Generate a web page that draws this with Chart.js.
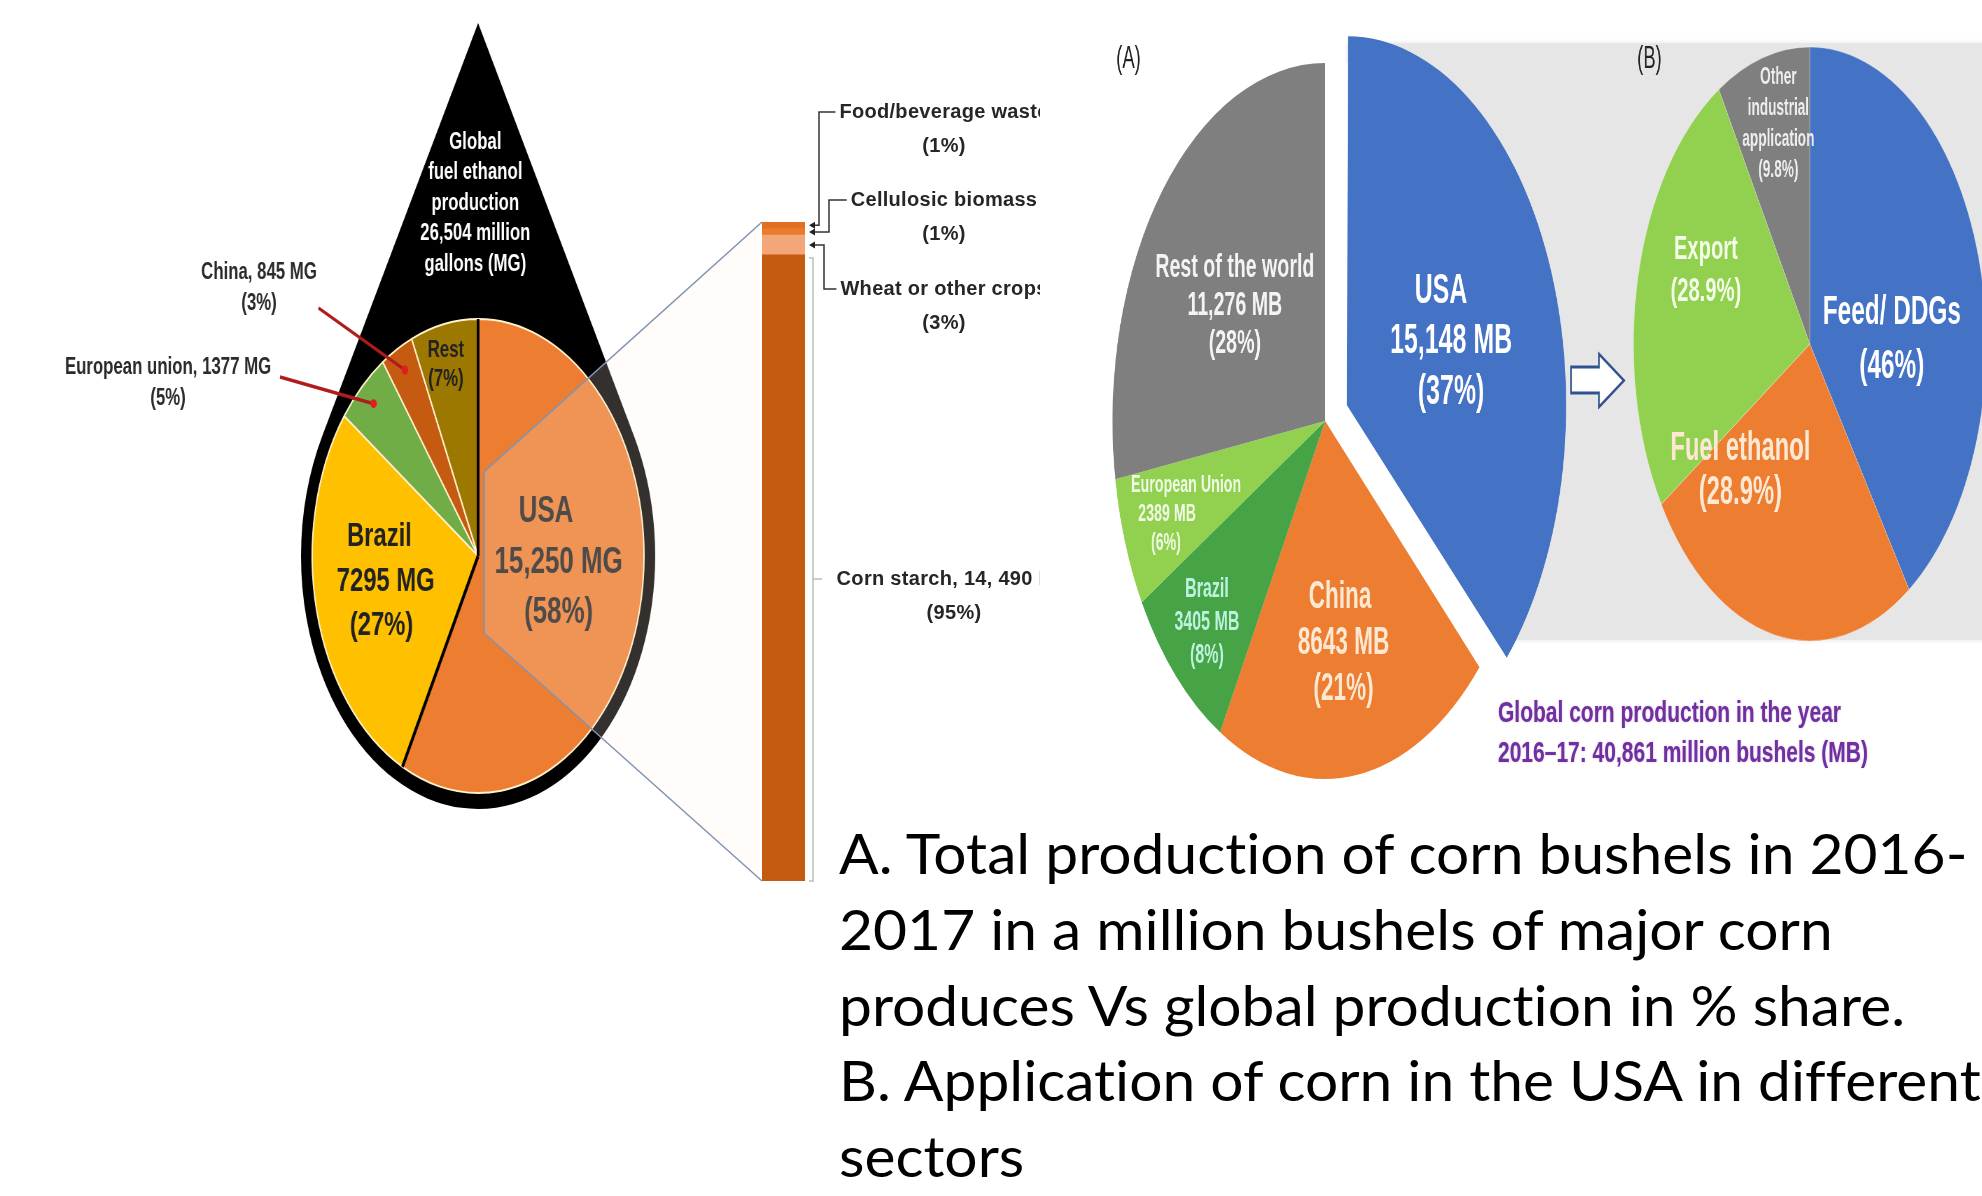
<!DOCTYPE html>
<html>
<head>
<meta charset="utf-8">
<title>Fuel ethanol and corn production</title>
<script src="https://cdn.jsdelivr.net/npm/chart.js@4.4.1/dist/chart.umd.min.js"></script>
<style>
  html, body { margin: 0; padding: 0; background: #fff; }
  body { position: relative; width: 1982px; height: 1196px; overflow: hidden; font-family: "Liberation Sans", Arial, sans-serif; }
  canvas { display: block; }
  .abs { position: absolute; }
  #dropBox { left: 0; top: 0; width: 1000px; height: 900px; transform-origin: 0 0; }
  #barBox { left: 700px; top: 0; width: 340px; height: 900px; overflow: hidden; }
  #callout { left: 0; top: 0; pointer-events: none; }
  #grayBox { left: 1348px; top: 43px; width: 640px; height: 597px; background: #e6e6e6; box-shadow: 0 0 4px 1px #ececec; }
  #cornBox { left: 1100px; top: 0; width: 1520px; height: 800px; transform-origin: 0 0; }
  #pieA { position: absolute; left: 0; top: 0; }
  #pieB { position: absolute; left: 760px; top: 0; }
  #note { left: 1498px; top: 692px; font-weight: bold; font-size: 30px; line-height: 40px; color: #7030a0;
          white-space: nowrap; transform: scaleX(0.7); transform-origin: 0 0; text-shadow: 0 0 2px rgba(112, 48, 160, 0.45); }
  #caption { left: 839px; top: 815px; font-family: Lato, sans-serif; font-size: 56px; line-height: 75.8px; color: #000;
             white-space: nowrap; transform-origin: 0 0; font-variant-ligatures: none; }
  #caption div { width: max-content; }
</style>
</head>
<body>
<div id="dropBox" class="abs"><canvas id="dropPie" width="1000" height="900"></canvas></div>
<div id="barBox" class="abs"><canvas id="feedBar" width="340" height="900"></canvas></div>
<canvas id="callout" class="abs" width="1100" height="900"></canvas>
<div id="grayBox" class="abs"></div>
<div id="cornBox" class="abs">
  <canvas id="pieA" width="900" height="800"></canvas>
  <canvas id="pieB" width="760" height="800"></canvas>
</div>
<div id="note" class="abs">Global corn production in the year<br>2016&ndash;17: 40,861 million bushels (MB)</div>
<div id="caption" class="abs">
  <div>A. Total production of corn bushels in 2016-</div>
  <div>2017 in a million bushels of major corn</div>
  <div>produces Vs global production in % share.</div>
  <div>B. Application of corn in the USA in different</div>
  <div>sectors</div>
</div>

<script>
// global fuel ethanol production, million gallons
const ethanolNames = ['USA', 'Brazil', 'European union', 'China', 'Rest'];
const ethanolMG = [15250, 7295, 1377, 845, 1737];
const ethanolPct = [58, 27, 5, 3, 7];
const ethanolColors = ['#ed7d31', '#ffc000', '#70ad47', '#c55a11', '#9c7800'];
const ethanolTotalMG = 26504;

// US ethanol feedstocks, bottom of the bar first
const feedNames = ['Corn starch, 14, 490 MG', 'Wheat or other crops', 'Cellulosic biomass', 'Food/beverage waste'];
const feedPct = [95, 3, 1, 1];
const feedColors = ['#c55a11', '#f3a677', '#ea7a2e', '#e06f1f'];

// corn production 2016-17, million bushels
const cornNames = ['USA', 'China', 'Brazil', 'European Union', 'Rest of the world'];
const cornMB = [15148, 8643, 3405, 2389, 11276];
const cornPct = [37, 21, 8, 6, 28];
const cornColors = ['#4472c4', '#ed7d31', '#46a447', '#92d050', '#7f7f7f'];

// use of US corn by sector, %
const useNames = ['Feed/ DDGs', 'Fuel ethanol', 'Export', 'Other industrial application'];
const usePct = [46, 28.9, 28.9, 9.8];
const useColors = ['#4472c4', '#ed7d31', '#92d050', '#7f7f7f'];

const DROP_SX = 0.7;    // the drop panel is drawn wide and squeezed into place
const CORN_SX = 0.594;  // same for the two corn pies
const BAR_LEFT = 700;

Chart.defaults.font.family = '"Liberation Sans", Arial, sans-serif';
document.getElementById('dropBox').style.transform = `scaleX(${DROP_SX})`;
document.getElementById('cornBox').style.transform = `scaleX(${CORN_SX})`;

const big = v => v >= 10000 ? v.toLocaleString('en-US') : String(v);
const F = (w, px) => `${w} ${px}px "Liberation Sans", Arial, sans-serif`;

// multi-line text blocks, one per slice
const sliceText = {
  id: 'sliceText',
  afterDatasetsDraw(chart, args, o) {
    const ctx = chart.ctx;
    ctx.save();
    ctx.textAlign = 'center';
    ctx.textBaseline = 'middle';
    o.items.forEach(it => {
      ctx.font = it.font;
      ctx.fillStyle = it.color;
      it.lines.forEach((t, j) => {
        const x = Array.isArray(it.x) ? it.x[j] : it.x;
        ctx.fillText(t, x, it.y + j * (it.lh || 0));
      });
    });
    ctx.restore();
  }
};

// black drop behind the ethanol pie, black USA edges and red leaders
const dropDecor = {
  id: 'dropDecor',
  beforeDatasetsDraw(chart, args, o) {
    const a = chart.getDatasetMeta(0).data[0];
    const R = a.outerRadius + o.rim;
    const b = Math.acos(R / (a.y - o.tipY));
    const ctx = chart.ctx;
    ctx.save();
    ctx.beginPath();
    ctx.moveTo(a.x, o.tipY);
    ctx.arc(a.x, a.y, R, -Math.PI / 2 + b, -Math.PI / 2 - b);
    ctx.closePath();
    ctx.fillStyle = '#000';
    ctx.fill();
    ctx.restore();
  },
  afterDatasetsDraw(chart, args, o) {
    const ctx = chart.ctx;
    const arcs = chart.getDatasetMeta(0).data;
    const usa = arcs[0];
    ctx.save();
    ctx.strokeStyle = '#000';
    ctx.lineWidth = 4;
    [usa.startAngle, usa.endAngle].forEach(ang => {
      ctx.beginPath();
      ctx.moveTo(usa.x, usa.y);
      ctx.lineTo(usa.x + Math.cos(ang) * usa.outerRadius, usa.y + Math.sin(ang) * usa.outerRadius);
      ctx.stroke();
    });
    o.leaders.forEach(l => {
      const a = arcs[l.i];
      const mid = (a.startAngle + a.endAngle) / 2;
      const ex = a.x + Math.cos(mid) * a.outerRadius * 0.9;
      const ey = a.y + Math.sin(mid) * a.outerRadius * 0.9;
      ctx.strokeStyle = '#b01c1c';
      ctx.lineWidth = 3.5;
      ctx.beginPath();
      ctx.moveTo(l.from[0], l.from[1]);
      ctx.lineTo(ex, ey);
      ctx.stroke();
      ctx.fillStyle = '#e01e1e';
      ctx.beginPath();
      ctx.arc(ex, ey, 4.5, 0, Math.PI * 2);
      ctx.fill();
    });
    ctx.restore();
  }
};

const dropChart = new Chart(document.getElementById('dropPie'), {
  type: 'pie',
  data: {
    labels: ethanolNames,
    datasets: [{ data: ethanolMG, backgroundColor: ethanolColors, borderColor: '#fff2cc', borderWidth: 2 }]
  },
  options: {
    responsive: false, animation: false, events: [],
    radius: 237,
    layout: { padding: { left: 446, right: 80, top: 319, bottom: 107 } },
    plugins: {
      legend: { display: false }, tooltip: { enabled: false },
      dropDecor: { tipY: 23, rim: 16, leaders: [{ i: 3, from: [455, 308] }, { i: 2, from: [400, 377] }] },
      sliceText: {
        items: [
          { x: 679, y: 142, lh: 30.5, font: F('bold', 24), color: '#fff',
            lines: ['Global', 'fuel ethanol', 'production', big(ethanolTotalMG) + ' million', 'gallons (MG)'] },
          { x: [780, 798, 798], y: 512, lh: 50.5, font: F('bold', 37), color: '#222',
            lines: [ethanolNames[0], big(ethanolMG[0]) + ' MG', `(${ethanolPct[0]}%)`] },
          { x: [542, 551, 545], y: 537, lh: 44.5, font: F('bold', 34), color: '#222',
            lines: [ethanolNames[1], big(ethanolMG[1]) + ' MG', `(${ethanolPct[1]}%)`] },
          { x: 637, y: 350, lh: 29, font: F('bold', 24), color: '#222',
            lines: [ethanolNames[4], `(${ethanolPct[4]}%)`] },
          { x: 370, y: 272, lh: 31, font: F('bold', 24), color: '#2b2b2b',
            lines: [`${ethanolNames[3]}, ${big(ethanolMG[3])} MG`, `(${ethanolPct[3]}%)`] },
          { x: 240, y: 367, lh: 31, font: F('bold', 24), color: '#2b2b2b',
            lines: [`${ethanolNames[2]}, ${big(ethanolMG[2])} MG`, `(${ethanolPct[2]}%)`] }
        ]
      }
    }
  },
  plugins: [dropDecor, sliceText]
});

// leaders and labels to the right of the feedstock bar
const feedLeaders = {
  id: 'feedLeaders',
  afterDatasetsDraw(chart, args, o) {
    const ctx = chart.ctx;
    const bars = chart.data.datasets.map((d, i) => chart.getDatasetMeta(i).data[0]);
    const right = bars[0].x + bars[0].width / 2;
    ctx.save();
    ctx.font = F('bold', 20);
    ctx.letterSpacing = '0.3px';
    ctx.textAlign = 'center';
    ctx.textBaseline = 'middle';
    o.items.forEach(it => {
      const b = bars[it.i];
      const name = feedNames[it.i];
      ctx.fillStyle = '#262626';
      ctx.fillText(name, it.x, it.y);
      ctx.fillText(`(${feedPct[it.i]}%)`, it.x, it.y + o.lh);
      const w = ctx.measureText(name).width;
      if (it.elbow) {
        const ay = (b.y + b.base) / 2;
        ctx.strokeStyle = '#333';
        ctx.lineWidth = 1.5;
        ctx.beginPath();
        ctx.moveTo(it.x - w / 2 - 4, it.y);
        ctx.lineTo(it.elbow, it.y);
        ctx.lineTo(it.elbow, ay);
        ctx.lineTo(right + 8, ay);
        ctx.stroke();
        ctx.fillStyle = '#222';
        ctx.beginPath();
        ctx.moveTo(right + 4, ay);
        ctx.lineTo(right + 10, ay - 3.5);
        ctx.lineTo(right + 10, ay + 3.5);
        ctx.closePath();
        ctx.fill();
      } else {
        const bx = right + 8;
        ctx.strokeStyle = '#bdbdbd';
        ctx.lineWidth = 1.5;
        ctx.beginPath();
        ctx.moveTo(bx - 4, b.y + 3);
        ctx.lineTo(bx, b.y + 3);
        ctx.lineTo(bx, b.base);
        ctx.lineTo(bx - 4, b.base);
        ctx.moveTo(bx, it.y);
        ctx.lineTo(bx + 9, it.y);
        ctx.stroke();
      }
    });
    ctx.restore();
  }
};

const barChart = new Chart(document.getElementById('feedBar'), {
  type: 'bar',
  data: {
    labels: ['Feedstock'],
    datasets: feedNames.map((n, i) => ({
      label: n, data: [feedPct[i]], backgroundColor: feedColors[i],
      borderWidth: 0, barPercentage: 1, categoryPercentage: 1
    }))
  },
  options: {
    responsive: false, animation: false, events: [],
    layout: { padding: { left: 62, right: 235, top: 222, bottom: 19 } },
    scales: {
      x: { display: false, stacked: true },
      y: { display: false, stacked: true, min: 0, max: 100 }
    },
    plugins: {
      legend: { display: false }, tooltip: { enabled: false },
      feedLeaders: {
        lh: 34.5,
        items: [
          { i: 3, x: 244, y: 112, elbow: 119 },
          { i: 2, x: 244, y: 200, elbow: 129 },
          { i: 1, x: 244, y: 289, elbow: 124 },
          { i: 0, x: 254, y: 579 }
        ]
      }
    }
  },
  plugins: [feedLeaders]
});

// zoom callout joining the USA share to the feedstock bar
(function drawCallout() {
  const ctx = document.getElementById('callout').getContext('2d');
  const a = dropChart.getDatasetMeta(0).data[0];
  const cx = a.x * DROP_SX, cy = a.y, r = a.outerRadius;
  const top = barChart.getDatasetMeta(feedNames.length - 1).data[0];
  const bottom = barChart.getDatasetMeta(0).data[0];
  const bx = BAR_LEFT + top.x - top.width / 2;
  const p0 = [cx + 6, cy - 0.355 * r], p1 = [cx + 6, cy + 0.325 * r];
  const q0 = [bx, top.y], q1 = [bx, bottom.base];
  ctx.beginPath();
  ctx.moveTo(...p0); ctx.lineTo(...q0); ctx.lineTo(...q1); ctx.lineTo(...p1);
  ctx.closePath();
  ctx.fillStyle = 'rgba(255, 240, 228, 0.2)';
  ctx.fill();
  ctx.strokeStyle = '#8193b2';
  ctx.lineWidth = 1.5;
  ctx.beginPath();
  ctx.moveTo(...q0); ctx.lineTo(...p0); ctx.lineTo(...p1); ctx.lineTo(...q1);
  ctx.stroke();
})();

// white wedge left behind by the pulled-out USA slice
const explodeGap = {
  id: 'explodeGap',
  beforeDatasetsDraw(chart) {
    const a = chart.getDatasetMeta(0).data[0];
    const ctx = chart.ctx;
    ctx.save();
    ctx.beginPath();
    ctx.moveTo(a.x, a.y);
    ctx.arc(a.x, a.y, a.outerRadius + 2, a.startAngle, a.endAngle);
    ctx.closePath();
    ctx.fillStyle = '#fff';
    ctx.fill();
    ctx.restore();
  }
};

new Chart(document.getElementById('pieA'), {
  type: 'pie',
  data: {
    labels: cornNames,
    datasets: [{
      data: cornMB, backgroundColor: cornColors, borderWidth: 0,
      offset: cornNames.map((n, i) => i === 0 ? 160 : 0)
    }]
  },
  options: {
    responsive: false, animation: false, events: [],
    radius: 358,
    layout: { padding: { left: 21, right: 163, top: 63, bottom: 21 } },
    plugins: {
      legend: { display: false }, tooltip: { enabled: false },
      sliceText: {
        items: [
          { x: 48, y: 59, font: F('normal', 31), color: '#222', lines: ['(A)'] },
          { x: 227, y: 268, lh: 38, font: F('bold', 33), color: '#f4f4f4',
            lines: [cornNames[4], big(cornMB[4]) + ' MB', `(${cornPct[4]}%)`] },
          { x: [574, 591, 591], y: 291, lh: 50.5, font: F('bold', 42), color: '#fff',
            lines: [cornNames[0], big(cornMB[0]) + ' MB', `(${cornPct[0]}%)`] },
          { x: [145, 113, 111], y: 485, lh: 29, font: F('bold', 24), color: '#effbe4',
            lines: [cornNames[3], big(cornMB[3]) + ' MB', `(${cornPct[3]}%)`] },
          { x: 180, y: 590, lh: 33, font: F('bold', 27), color: '#bdf3de',
            lines: [cornNames[2], big(cornMB[2]) + ' MB', `(${cornPct[2]}%)`] },
          { x: [404, 410, 410], y: 598, lh: 46, font: F('bold', 38), color: '#fde9d3',
            lines: [cornNames[1], big(cornMB[1]) + ' MB', `(${cornPct[1]}%)`] }
        ]
      }
    }
  },
  plugins: [explodeGap, sliceText]
});

// hollow arrow pointing from the USA slice to the sector pie
const shiftArrow = {
  id: 'shiftArrow',
  beforeDatasetsDraw(chart, args, o) {
    const ctx = chart.ctx;
    const [x0, x1, x2] = o.x, [ys0, ys1] = o.shaft, [yh0, yh1] = o.head;
    const ym = (yh0 + yh1) / 2;
    ctx.save();
    ctx.beginPath();
    ctx.moveTo(x0, ys0); ctx.lineTo(x1, ys0); ctx.lineTo(x1, yh0); ctx.lineTo(x2, ym);
    ctx.lineTo(x1, yh1); ctx.lineTo(x1, ys1); ctx.lineTo(x0, ys1);
    ctx.closePath();
    ctx.fillStyle = '#fff';
    ctx.fill();
    ctx.strokeStyle = '#2f528f';
    ctx.lineWidth = 3;
    ctx.stroke();
    ctx.restore();
  }
};

new Chart(document.getElementById('pieB'), {
  type: 'pie',
  data: {
    labels: useNames,
    datasets: [{ data: usePct, backgroundColor: useColors, borderColor: 'rgba(255,255,255,0.35)', borderWidth: 1 }]
  },
  options: {
    responsive: false, animation: false, events: [],
    radius: 297,
    layout: { padding: { left: 138, right: 28, top: 47, bottom: 159 } },
    plugins: {
      legend: { display: false }, tooltip: { enabled: false },
      shiftArrow: { x: [33, 80, 122], shaft: [367, 393], head: [354, 407] },
      sliceText: {
        items: [
          { x: 165, y: 59, font: F('normal', 31), color: '#222', lines: ['(B)'] },
          { x: 382, y: 78, lh: 31, font: F('bold', 23), color: '#eeeeee',
            lines: [...useNames[3].split(' '), `(${usePct[3]}%)`] },
          { x: 260, y: 250, lh: 42, font: F('bold', 34), color: '#f4fde8',
            lines: [useNames[2], `(${usePct[2]}%)`] },
          { x: 318, y: 449, lh: 44, font: F('bold', 40), color: '#fde9d3',
            lines: [useNames[1], `(${usePct[1]}%)`] },
          { x: 573, y: 313, lh: 54, font: F('bold', 41), color: '#fff',
            lines: [useNames[0], `(${usePct[0]}%)`] }
        ]
      }
    }
  },
  plugins: [shiftArrow, sliceText]
});

// narrow the caption so its first line fills the 1129px text column
const caption = document.getElementById('caption');
caption.style.transform = `scaleX(${1129 / caption.firstElementChild.offsetWidth})`;
</script>
</body>
</html>
